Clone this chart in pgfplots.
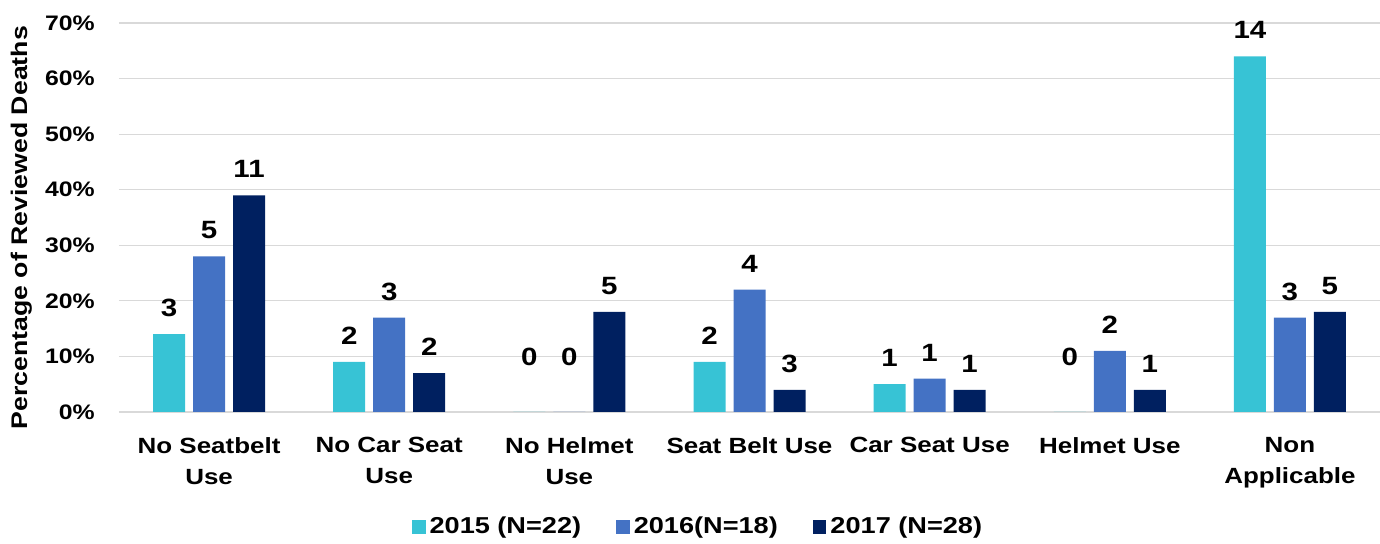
\documentclass[border=0pt]{standalone}
\usepackage{fontspec}
\setmainfont{Liberation Sans}[FakeStretch=1.18]
\usepackage{pgfplots}
\pgfplotsset{compat=1.18}
\definecolor{c15}{HTML}{37C3D5}
\definecolor{c16}{HTML}{4472C4}
\definecolor{c17}{HTML}{002060}
\definecolor{gridc}{HTML}{D9D9D9}
\begin{document}
\begin{tikzpicture}
\begin{axis}[
  name=ax, scale only axis, width=630.5pt, height=194.5pt,
  ybar=4pt, bar width=16pt,
  xmin=-0.5, xmax=6.5, ymin=0, ymax=70,
  xtick={0,...,6},
  xticklabels={No Seatbelt\\Use, No Car Seat\\Use, No Helmet\\Use, Seat Belt Use, Car Seat Use, Helmet Use, Non\\Applicable},
  ytick={0,10,...,70}, yticklabel={\pgfmathprintnumber{\tick}\%},
  /pgf/number format/assume math mode=true,
  axis line style={draw=none}, major tick length=0pt,
  ymajorgrids, grid style={gridc, line width=0.6pt},
  yticklabel style={font=\bfseries\fontsize{10.5}{12}\selectfont, anchor=east, inner sep=0pt, xshift=-12pt},
  xticklabel style={font=\bfseries\fontsize{11}{15.5}\selectfont, anchor=north, align=center, inner sep=0pt, yshift=-12.5pt},
  ylabel={Percentage of Reviewed Deaths},
  every axis y label/.style={at={(axis description cs:-0.0775,0.474)}, rotate=90, anchor=center,
    font=\bfseries\fontsize{11.3}{13}\selectfont},
  point meta=explicit symbolic, nodes near coords,
  visualization depends on={y \as \rawy},
  every node near coord/.append style={font=\bfseries\fontsize{12.5}{14}\selectfont, anchor=center, inner sep=0pt,
    yshift={\rawy<0.01 ? 27.5 : 13}},
  legend style={at={(0.4584,-0.2956)}, anchor=center, draw=none, fill=none, legend columns=-1,
    font=\bfseries\fontsize{11.5}{13}\selectfont, nodes={inner sep=0pt},
    /tikz/every odd column/.append style={column sep=2pt},
    /tikz/every even column/.append style={column sep=17.5pt}},
  legend image code/.code={\fill[#1] (0pt,-3.4pt) rectangle (6.8pt,3.4pt);},
]
\addplot[fill=c15, draw=none] coordinates {(0,14)[3] (1,9)[2] (2,0)[0] (3,9)[2] (4,5)[1] (5,0)[0] (6,64)[14]};
\addplot[fill=c16, draw=none] coordinates {(0,28)[5] (1,17)[3] (2,0)[0] (3,22)[4] (4,6)[1] (5,11)[2] (6,17)[3]};
\addplot[fill=c17, draw=none] coordinates {(0,39)[11] (1,7)[2] (2,18)[5] (3,4)[3] (4,4)[1] (5,4)[1] (6,18)[5]};
\legend{2015 (N=22), 2016(N=18), 2017 (N=28)}
\end{axis}
\pgfresetboundingbox
\path[use as bounding box] ([xshift=-59.5pt,yshift=-66pt]ax.south west) rectangle ([yshift=11.5pt]ax.north east);
\end{tikzpicture}
\end{document}
